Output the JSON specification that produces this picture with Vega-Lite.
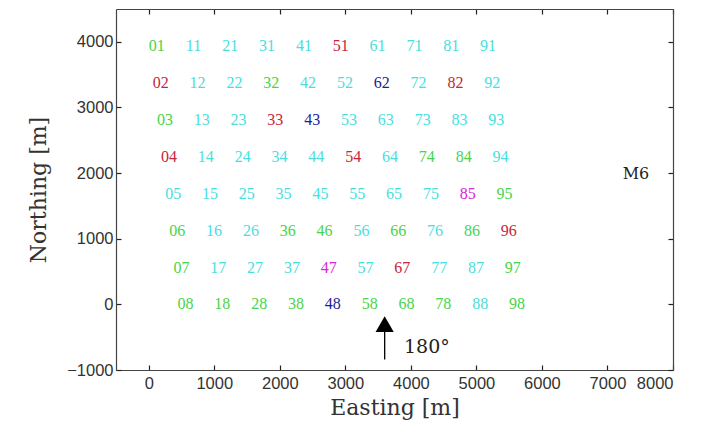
{
  "$schema": "https://vega.github.io/schema/vega-lite/v6.json",
  "width": 557,
  "height": 361,
  "autosize": "none",
  "padding": {"left": 116, "top": 9, "right": 34, "bottom": 58},
  "background": "white",
  "config": {
    "view": {"stroke": null},
    "axis": {
      "grid": false,
      "domainColor": "#444",
      "domainWidth": 1.2,
      "tickColor": "#222",
      "tickSize": -5,
      "tickWidth": 1.2,
      "labelFont": "Liberation Sans",
      "labelFontSize": 16.5,
      "labelColor": "#333",
      "titleFont": "DejaVu Serif",
      "titleFontSize": 22,
      "titleFontWeight": "normal",
      "titleColor": "#333"
    }
  },
  "datasets": {
    "grid": [
      {"x": 120, "y": 3930, "label": "01", "c": "green"},
      {"x": 183, "y": 3370, "label": "02", "c": "red"},
      {"x": 246, "y": 2810, "label": "03", "c": "green"},
      {"x": 309, "y": 2250, "label": "04", "c": "red"},
      {"x": 372, "y": 1685, "label": "05", "c": "cyan"},
      {"x": 435, "y": 1125, "label": "06", "c": "green"},
      {"x": 498, "y": 560, "label": "07", "c": "green"},
      {"x": 561, "y": 0, "label": "08", "c": "green"},
      {"x": 682, "y": 3930, "label": "11", "c": "cyan"},
      {"x": 745, "y": 3370, "label": "12", "c": "cyan"},
      {"x": 808, "y": 2810, "label": "13", "c": "cyan"},
      {"x": 871, "y": 2250, "label": "14", "c": "cyan"},
      {"x": 934, "y": 1685, "label": "15", "c": "cyan"},
      {"x": 997, "y": 1125, "label": "16", "c": "cyan"},
      {"x": 1060, "y": 560, "label": "17", "c": "cyan"},
      {"x": 1123, "y": 0, "label": "18", "c": "green"},
      {"x": 1244, "y": 3930, "label": "21", "c": "cyan"},
      {"x": 1307, "y": 3370, "label": "22", "c": "cyan"},
      {"x": 1370, "y": 2810, "label": "23", "c": "cyan"},
      {"x": 1433, "y": 2250, "label": "24", "c": "cyan"},
      {"x": 1496, "y": 1685, "label": "25", "c": "cyan"},
      {"x": 1559, "y": 1125, "label": "26", "c": "cyan"},
      {"x": 1622, "y": 560, "label": "27", "c": "cyan"},
      {"x": 1685, "y": 0, "label": "28", "c": "green"},
      {"x": 1806, "y": 3930, "label": "31", "c": "cyan"},
      {"x": 1869, "y": 3370, "label": "32", "c": "green"},
      {"x": 1932, "y": 2810, "label": "33", "c": "red"},
      {"x": 1995, "y": 2250, "label": "34", "c": "cyan"},
      {"x": 2058, "y": 1685, "label": "35", "c": "cyan"},
      {"x": 2121, "y": 1125, "label": "36", "c": "green"},
      {"x": 2184, "y": 560, "label": "37", "c": "cyan"},
      {"x": 2247, "y": 0, "label": "38", "c": "green"},
      {"x": 2368, "y": 3930, "label": "41", "c": "cyan"},
      {"x": 2431, "y": 3370, "label": "42", "c": "cyan"},
      {"x": 2494, "y": 2810, "label": "43", "c": "blue"},
      {"x": 2557, "y": 2250, "label": "44", "c": "cyan"},
      {"x": 2620, "y": 1685, "label": "45", "c": "cyan"},
      {"x": 2683, "y": 1125, "label": "46", "c": "green"},
      {"x": 2746, "y": 560, "label": "47", "c": "magenta"},
      {"x": 2809, "y": 0, "label": "48", "c": "blue"},
      {"x": 2930, "y": 3930, "label": "51", "c": "red"},
      {"x": 2993, "y": 3370, "label": "52", "c": "cyan"},
      {"x": 3056, "y": 2810, "label": "53", "c": "cyan"},
      {"x": 3119, "y": 2250, "label": "54", "c": "red"},
      {"x": 3182, "y": 1685, "label": "55", "c": "cyan"},
      {"x": 3245, "y": 1125, "label": "56", "c": "cyan"},
      {"x": 3308, "y": 560, "label": "57", "c": "cyan"},
      {"x": 3371, "y": 0, "label": "58", "c": "green"},
      {"x": 3492, "y": 3930, "label": "61", "c": "cyan"},
      {"x": 3555, "y": 3370, "label": "62", "c": "blue"},
      {"x": 3618, "y": 2810, "label": "63", "c": "cyan"},
      {"x": 3681, "y": 2250, "label": "64", "c": "cyan"},
      {"x": 3744, "y": 1685, "label": "65", "c": "cyan"},
      {"x": 3807, "y": 1125, "label": "66", "c": "green"},
      {"x": 3870, "y": 560, "label": "67", "c": "red"},
      {"x": 3933, "y": 0, "label": "68", "c": "green"},
      {"x": 4054, "y": 3930, "label": "71", "c": "cyan"},
      {"x": 4117, "y": 3370, "label": "72", "c": "cyan"},
      {"x": 4180, "y": 2810, "label": "73", "c": "cyan"},
      {"x": 4243, "y": 2250, "label": "74", "c": "green"},
      {"x": 4306, "y": 1685, "label": "75", "c": "cyan"},
      {"x": 4369, "y": 1125, "label": "76", "c": "cyan"},
      {"x": 4432, "y": 560, "label": "77", "c": "cyan"},
      {"x": 4495, "y": 0, "label": "78", "c": "green"},
      {"x": 4616, "y": 3930, "label": "81", "c": "cyan"},
      {"x": 4679, "y": 3370, "label": "82", "c": "red"},
      {"x": 4742, "y": 2810, "label": "83", "c": "cyan"},
      {"x": 4805, "y": 2250, "label": "84", "c": "green"},
      {"x": 4868, "y": 1685, "label": "85", "c": "magenta"},
      {"x": 4931, "y": 1125, "label": "86", "c": "green"},
      {"x": 4994, "y": 560, "label": "87", "c": "cyan"},
      {"x": 5057, "y": 0, "label": "88", "c": "cyan"},
      {"x": 5178, "y": 3930, "label": "91", "c": "cyan"},
      {"x": 5241, "y": 3370, "label": "92", "c": "cyan"},
      {"x": 5304, "y": 2810, "label": "93", "c": "cyan"},
      {"x": 5367, "y": 2250, "label": "94", "c": "cyan"},
      {"x": 5430, "y": 1685, "label": "95", "c": "green"},
      {"x": 5493, "y": 1125, "label": "96", "c": "red"},
      {"x": 5556, "y": 560, "label": "97", "c": "green"},
      {"x": 5619, "y": 0, "label": "98", "c": "green"}
    ],
    "arrow": [{"x": 3600, "y": -841, "y2": -420}],
    "head": [{"x": 3600, "y": -300}],
    "notes": [
      {"x": 4244, "y": -642, "label": "180°", "size": 19},
      {"x": 7435, "y": 1990, "label": "M6", "size": 16}
    ]
  },
  "resolve": {"axis": {"x": "independent", "y": "independent"}},
  "layer": [
    {
      "data": {"name": "grid"},
      "mark": {"type": "text", "font": "Liberation Serif", "fontSize": 16, "baseline": "middle", "align": "center"},
      "encoding": {
        "x": {"field": "x", "type": "quantitative",
          "scale": {"domain": [-500, 8000], "nice": false, "zero": false},
          "axis": {"orient": "bottom", "values": [0, 1000, 2000, 3000, 4000, 5000, 6000, 7000, 8000], "format": "d", "title": "Easting [m]", "labelPadding": 10, "titlePadding": 6}},
        "y": {"field": "y", "type": "quantitative",
          "scale": {"domain": [-1000, 4500], "nice": false, "zero": false},
          "axis": {"orient": "left", "values": [-1000, 0, 1000, 2000, 3000, 4000], "format": "d", "title": "Northing [m]", "labelPadding": 8, "titlePadding": 16}},
        "text": {"field": "label"},
        "color": {"field": "c", "type": "nominal",
          "scale": {"domain": ["green", "cyan", "red", "blue", "magenta"], "range": ["#48d448", "#48dede", "#c8243c", "#1c1c96", "#d428d4"]},
          "legend": null}
      }
    },
    {
      "data": {"name": "arrow"},
      "mark": {"type": "rule", "opacity": 0},
      "encoding": {
        "x": {"field": "x", "type": "quantitative", "axis": {"orient": "top", "labels": false, "title": null, "values": [0, 1000, 2000, 3000, 4000, 5000, 6000, 7000, 8000]}},
        "y": {"field": "y", "type": "quantitative", "axis": {"orient": "right", "labels": false, "title": null, "values": [-1000, 0, 1000, 2000, 3000, 4000]}}
      }
    },
    {
      "data": {"name": "arrow"},
      "mark": {"type": "rule", "color": "black", "strokeWidth": 1.3},
      "encoding": {
        "x": {"field": "x", "type": "quantitative", "axis": null},
        "y": {"field": "y", "type": "quantitative", "axis": null},
        "y2": {"field": "y2"}
      }
    },
    {
      "data": {"name": "head"},
      "mark": {"type": "point", "shape": "triangle-up", "filled": true, "color": "black", "opacity": 1, "size": 330},
      "encoding": {
        "x": {"field": "x", "type": "quantitative", "axis": null},
        "y": {"field": "y", "type": "quantitative", "axis": null}
      }
    },
    {
      "data": {"name": "notes"},
      "mark": {"type": "text", "font": "DejaVu Serif", "color": "#222", "baseline": "middle", "align": "center"},
      "encoding": {
        "x": {"field": "x", "type": "quantitative", "axis": null},
        "y": {"field": "y", "type": "quantitative", "axis": null},
        "text": {"field": "label"},
        "size": {"field": "size", "type": "quantitative", "scale": null, "legend": null}
      }
    }
  ]
}
